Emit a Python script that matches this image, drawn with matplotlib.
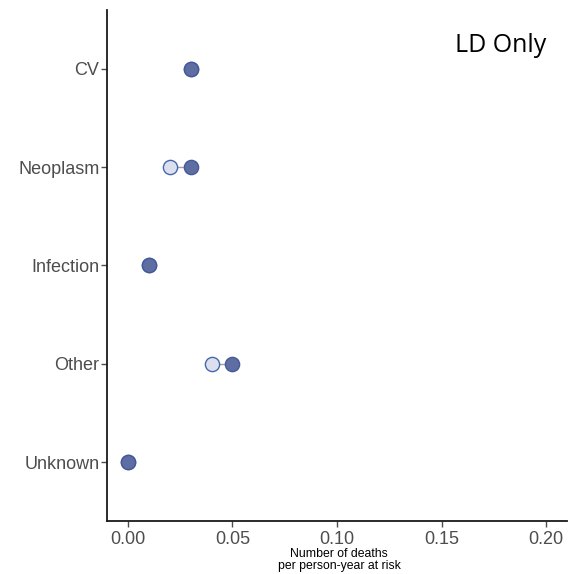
import matplotlib
matplotlib.use("Agg")
import matplotlib.pyplot as plt

# Death rates by cause (deaths per person-year at risk)
causes = ["CV", "Neoplasm", "Infection", "Other", "Unknown"]
rate_a = [0.03, 0.02, 0.01, 0.04, 0.00]   # lighter points
rate_b = [0.03, 0.03, 0.01, 0.05, 0.00]   # darker points
x_ticks = [0.00, 0.05, 0.10, 0.15, 0.20]
panel_title = "LD Only"
x_title = "Number of deaths\nper person-year at risk"

fig = plt.figure(figsize=(5.72, 5.74), dpi=100)
ax = fig.add_axes([107 / 572, 53 / 574, 460 / 572, 511 / 574])

ypos = list(range(len(causes), 0, -1))

for y, a, b in zip(ypos, rate_a, rate_b):
    ax.plot([a, b], [y, y], color="#A0A0A0", lw=1.0, zorder=1)

ax.scatter(rate_a, ypos, s=105, facecolor="#DCE0EE", edgecolor="#4666AE",
           linewidth=1.0, zorder=2)
ax.scatter(rate_b, ypos, s=105, facecolor="#5E6EA3", edgecolor="#44599A",
           linewidth=1.0, zorder=3)

ax.set_xlim(-0.01, 0.21)
ax.set_ylim(0.4, len(causes) + 0.6)
ax.set_xticks(x_ticks)
ax.set_xticklabels([f"{v:.2f}" for v in x_ticks])
ax.set_yticks(ypos)
ax.set_yticklabels(causes)

for side in ("top", "right"):
    ax.spines[side].set_visible(False)
for side in ("left", "bottom"):
    ax.spines[side].set_color("#1A1A1A")
    ax.spines[side].set_linewidth(1.3)

ax.tick_params(axis="both", colors="#4D4D4D", labelsize=13, length=4,
               width=1.0)
ax.tick_params(axis="y", pad=1.5)
ax.tick_params(axis="x", pad=3)
for lbl in ax.get_xticklabels() + ax.get_yticklabels():
    lbl.set_fontfamily("Liberation Sans")
    lbl.set_color("#4D4D4D")

# axis title placed under the tick labels, kept inside the canvas
fig.text(339 / 572, 2 / 574, x_title, ha="center", va="bottom",
         fontsize=8.8, fontfamily="Liberation Sans", color="black",
         linespacing=1.0, multialignment="center")

ax.text(0.955, 0.955, panel_title, transform=ax.transAxes, ha="right",
        va="top", fontsize=18, fontfamily="Open Sans", color="black")

fig.savefig("out.png", dpi=100)
